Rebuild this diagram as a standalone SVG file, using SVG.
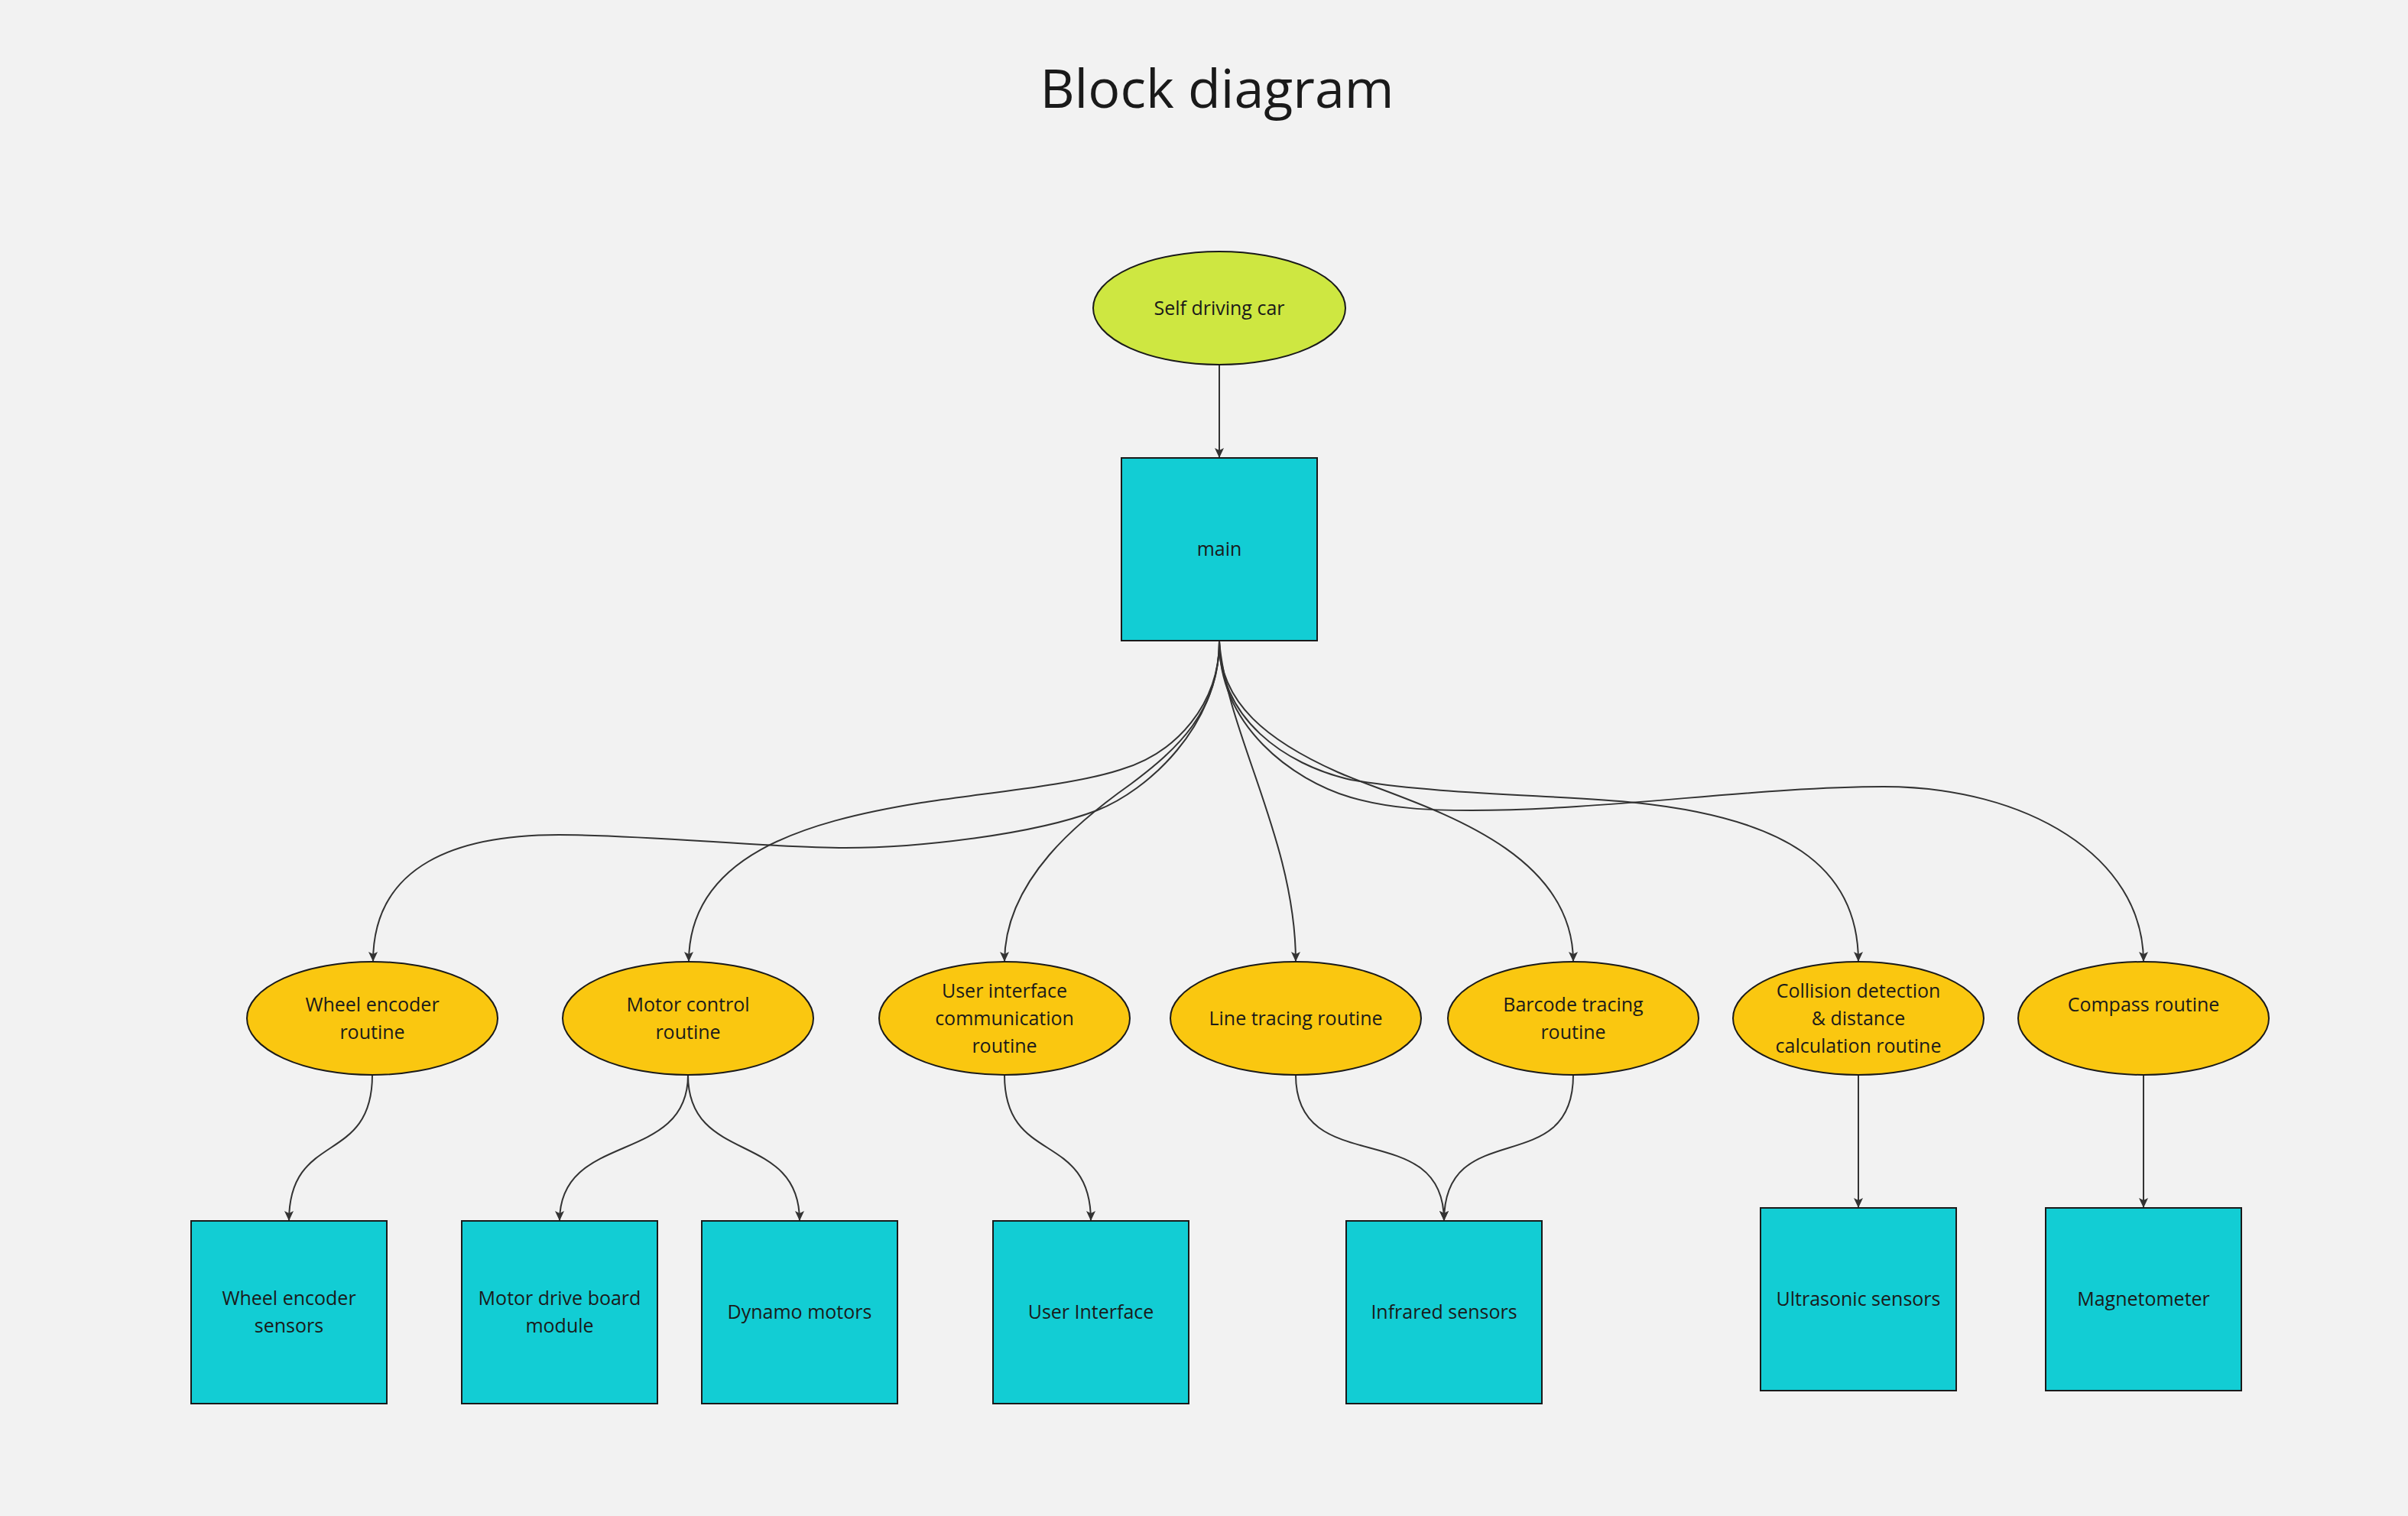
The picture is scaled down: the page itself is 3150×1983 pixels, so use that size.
<svg xmlns="http://www.w3.org/2000/svg" width="3150" height="1983" viewBox="0 0 3150 1983">
<defs>
<marker id="arrow" markerUnits="userSpaceOnUse" markerWidth="14" markerHeight="12" refX="13" refY="6" orient="auto">
<path d="M0,0 L13,6 L0,12 L3,6 z" fill="#333333"/>
</marker>
<style>
.bg{fill:#f2f2f2}
.title{font-family:"Open Sans","Noto Sans",sans-serif;font-size:70px;fill:#1a1a1a;text-anchor:middle}
.lbl{font-family:"Open Sans","Noto Sans",sans-serif;font-size:25px;fill:#1a1a1a;text-anchor:middle}
.root{fill:#cee741;stroke:#1a1a1a;stroke-width:2}
.routine{fill:#fac710;stroke:#1a1a1a;stroke-width:2}
.box{fill:#12cdd4;stroke:#1a1a1a;stroke-width:2}
.edge{fill:none;stroke:#333333;stroke-width:2;marker-end:url(#arrow)}
</style>
</defs>
<rect class="bg" x="0" y="0" width="3150" height="1983"/>
<text class="title" x="1592" y="141">Block diagram</text>

<g id="connectors">
<path class="edge" d="M1595,477 L1595,599"/>
<path class="edge" d="M1595,839 C1595,950 1500,1035 1435,1060 C1351,1092 1200,1109 1106,1109 C1000,1109 850,1092 731,1092 C600,1092 488,1130 488,1258"/>
<path class="edge" d="M1595,839 C1595,920 1540,985 1465,1007 C1400,1028 1280,1038 1205,1050 C1050,1075 901,1120 901,1258"/>
<path class="edge" d="M1595,839 C1595,930 1540,980 1480,1025 C1415,1071 1314,1150 1314,1258"/>
<path class="edge" d="M1595,839 C1605,960 1695,1100 1695,1258"/>
<path class="edge" d="M1595,839 C1595,920 1660,970 1750,1010 C1840,1050 2058,1100 2058,1258"/>
<path class="edge" d="M1595,839 C1595,940 1680,1000 1767,1020 C1880,1040 2050,1040 2140,1050 C2330,1070 2431,1130 2431,1258"/>
<path class="edge" d="M1595,839 C1595,950 1690,1020 1767,1043 C1820,1058 1870,1060 1925,1060 C2100,1060 2300,1029 2464,1029 C2650,1029 2804,1120 2804,1258"/>
<path class="edge" d="M487,1406 C487,1525 378,1478 378,1597"/>
<path class="edge" d="M900,1406 C900,1525 732,1478 732,1597"/>
<path class="edge" d="M900,1406 C900,1525 1046,1478 1046,1597"/>
<path class="edge" d="M1314,1406 C1314,1525 1427,1478 1427,1597"/>
<path class="edge" d="M1695,1406 C1695,1545 1889,1458 1889,1597"/>
<path class="edge" d="M2058,1406 C2058,1545 1889,1458 1889,1597"/>
<path class="edge" d="M2431,1406 L2431,1580"/>
<path class="edge" d="M2804,1406 L2804,1580"/>
</g>

<g id="self-driving-car">
<ellipse class="root" cx="1595" cy="403" rx="165" ry="74"/>
<text class="lbl" x="1595" y="412">Self driving car</text>
</g>
<g id="main">
<rect class="box" x="1467" y="599" width="256" height="239"/>
<text class="lbl" x="1595" y="727">main</text>
</g>

<g id="wheel-encoder-routine">
<ellipse class="routine" cx="487" cy="1332" rx="164" ry="74"/>
<text class="lbl" x="487" y="1323">Wheel encoder</text>
<text class="lbl" x="487" y="1359">routine</text>
</g>
<g id="motor-control-routine">
<ellipse class="routine" cx="900" cy="1332" rx="164" ry="74"/>
<text class="lbl" x="900" y="1323">Motor control</text>
<text class="lbl" x="900" y="1359">routine</text>
</g>
<g id="ui-communication-routine">
<ellipse class="routine" cx="1314" cy="1332" rx="164" ry="74"/>
<text class="lbl" x="1314" y="1305">User interface</text>
<text class="lbl" x="1314" y="1341">communication</text>
<text class="lbl" x="1314" y="1377">routine</text>
</g>
<g id="line-tracing-routine">
<ellipse class="routine" cx="1695" cy="1332" rx="164" ry="74"/>
<text class="lbl" x="1695" y="1341">Line tracing routine</text>
</g>
<g id="barcode-tracing-routine">
<ellipse class="routine" cx="2058" cy="1332" rx="164" ry="74"/>
<text class="lbl" x="2058" y="1323">Barcode tracing</text>
<text class="lbl" x="2058" y="1359">routine</text>
</g>
<g id="collision-detection-routine">
<ellipse class="routine" cx="2431" cy="1332" rx="164" ry="74"/>
<text class="lbl" x="2431" y="1305">Collision detection</text>
<text class="lbl" x="2431" y="1341">&amp; distance</text>
<text class="lbl" x="2431" y="1377">calculation routine</text>
</g>
<g id="compass-routine">
<ellipse class="routine" cx="2804" cy="1332" rx="164" ry="74"/>
<text class="lbl" x="2804" y="1323">Compass routine</text>
</g>

<g id="wheel-encoder-sensors">
<rect class="box" x="250" y="1597" width="256" height="239"/>
<text class="lbl" x="378" y="1707">Wheel encoder</text>
<text class="lbl" x="378" y="1743">sensors</text>
</g>
<g id="motor-drive-board-module">
<rect class="box" x="604" y="1597" width="256" height="239"/>
<text class="lbl" x="732" y="1707">Motor drive board</text>
<text class="lbl" x="732" y="1743">module</text>
</g>
<g id="dynamo-motors">
<rect class="box" x="918" y="1597" width="256" height="239"/>
<text class="lbl" x="1046" y="1725">Dynamo motors</text>
</g>
<g id="user-interface">
<rect class="box" x="1299" y="1597" width="256" height="239"/>
<text class="lbl" x="1427" y="1725">User Interface</text>
</g>
<g id="infrared-sensors">
<rect class="box" x="1761" y="1597" width="256" height="239"/>
<text class="lbl" x="1889" y="1725">Infrared sensors</text>
</g>
<g id="ultrasonic-sensors">
<rect class="box" x="2303" y="1580" width="256" height="239"/>
<text class="lbl" x="2431" y="1708">Ultrasonic sensors</text>
</g>
<g id="magnetometer">
<rect class="box" x="2676" y="1580" width="256" height="239"/>
<text class="lbl" x="2804" y="1708">Magnetometer</text>
</g>
</svg>
